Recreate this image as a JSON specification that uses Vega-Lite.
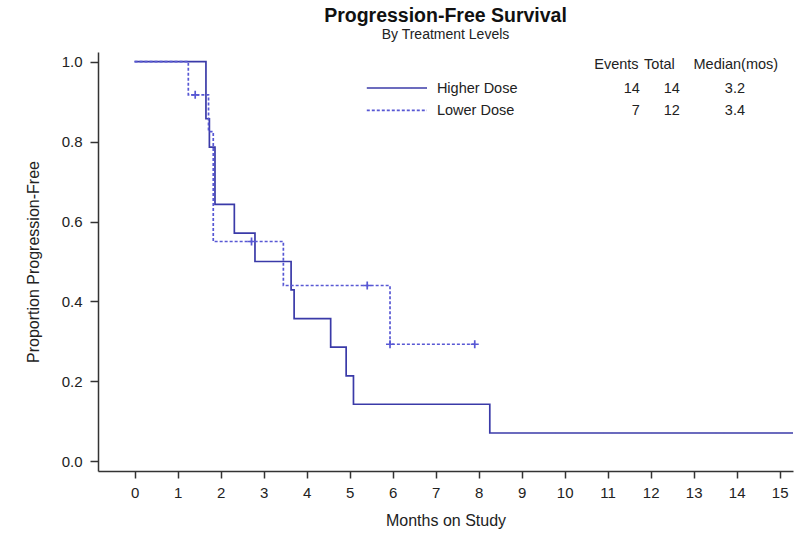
{
  "$schema": "https://vega.github.io/schema/vega-lite/v6.json",
  "width": 695,
  "height": 419,
  "autosize": {"type": "none"},
  "padding": {"left": 98, "top": 52, "right": 7, "bottom": 66},
  "background": "white",
  "config": {
    "font": "Liberation Sans",
    "view": {"stroke": null},
    "axis": {"grid": false, "domainColor": "#333333", "tickColor": "#333333", "domainWidth": 1.5, "tickWidth": 1.5, "labelColor": "#222222", "titleColor": "#222222", "labelFont": "Liberation Sans", "titleFont": "Liberation Sans", "labelFontSize": 15, "titleFontSize": 16, "titleFontWeight": "normal"}
  },
  "title": {
    "text": "Progression-Free Survival",
    "subtitle": "By Treatment Levels",
    "anchor": "middle",
    "frame": "group",
    "fontSize": 19.5,
    "fontWeight": "bold",
    "font": "Liberation Sans",
    "color": "#111111",
    "subtitleFontSize": 14,
    "subtitleFont": "Liberation Sans",
    "subtitleColor": "#222222",
    "subtitlePadding": 2,
    "offset": 9
  },
  "datasets": {
    "curves": [
      {"group": "Higher Dose", "month": 0, "surv": 1.0},
      {"group": "Higher Dose", "month": 1.66, "surv": 0.857},
      {"group": "Higher Dose", "month": 1.74, "surv": 0.786},
      {"group": "Higher Dose", "month": 1.87, "surv": 0.643},
      {"group": "Higher Dose", "month": 2.32, "surv": 0.571},
      {"group": "Higher Dose", "month": 2.8, "surv": 0.5},
      {"group": "Higher Dose", "month": 3.64, "surv": 0.429},
      {"group": "Higher Dose", "month": 3.71, "surv": 0.357},
      {"group": "Higher Dose", "month": 4.56, "surv": 0.286},
      {"group": "Higher Dose", "month": 4.92, "surv": 0.214},
      {"group": "Higher Dose", "month": 5.09, "surv": 0.143},
      {"group": "Higher Dose", "month": 8.26, "surv": 0.071},
      {"group": "Higher Dose", "month": 15.31, "surv": 0.071},
      {"group": "Lower Dose", "month": 0, "surv": 1.0},
      {"group": "Lower Dose", "month": 1.25, "surv": 0.917},
      {"group": "Lower Dose", "month": 1.72, "surv": 0.825},
      {"group": "Lower Dose", "month": 1.83, "surv": 0.55},
      {"group": "Lower Dose", "month": 3.46, "surv": 0.44},
      {"group": "Lower Dose", "month": 5.94, "surv": 0.293},
      {"group": "Lower Dose", "month": 7.91, "surv": 0.293}
    ],
    "censors": [
      {"group": "Lower Dose", "month": 1.41, "surv": 0.917},
      {"group": "Lower Dose", "month": 2.72, "surv": 0.55},
      {"group": "Lower Dose", "month": 5.41, "surv": 0.44},
      {"group": "Lower Dose", "month": 5.94, "surv": 0.293},
      {"group": "Lower Dose", "month": 7.91, "surv": 0.293}
    ],
    "legendlines": [
      {"group": "Higher Dose", "x1": 5.4, "x2": 6.8, "y": 0.934},
      {"group": "Lower Dose", "x1": 5.4, "x2": 6.8, "y": 0.878}
    ],
    "legendlabels": [
      {"label": "Higher Dose", "x": 7.03, "y": 0.932},
      {"label": "Lower Dose", "x": 7.03, "y": 0.877}
    ],
    "rightcols": [
      {"label": "Events", "x": 11.72, "y": 0.992},
      {"label": "Total", "x": 12.56, "y": 0.992},
      {"label": "14", "x": 11.75, "y": 0.932},
      {"label": "14", "x": 12.68, "y": 0.932},
      {"label": "7", "x": 11.75, "y": 0.877},
      {"label": "12", "x": 12.68, "y": 0.877}
    ],
    "centercols": [
      {"label": "Median(mos)", "x": 13.98, "y": 0.992},
      {"label": "3.2", "x": 13.96, "y": 0.932},
      {"label": "3.4", "x": 13.96, "y": 0.877}
    ]
  },
  "layer": [
    {
      "data": {"name": "curves"},
      "mark": {"type": "line", "interpolate": "step-after", "strokeWidth": 1.7},
      "encoding": {
        "x": {"field": "month", "type": "quantitative",
              "scale": {"domain": [-0.85, 15.31], "nice": false, "zero": false},
              "axis": {"values": [0,1,2,3,4,5,6,7,8,9,10,11,12,13,14,15], "title": "Months on Study", "tickSize": 7, "labelPadding": 7, "titlePadding": 12, "labelFlush": false}},
        "y": {"field": "surv", "type": "quantitative",
              "scale": {"domain": [-0.024, 1.024], "nice": false, "zero": false},
              "axis": {"values": [0, 0.2, 0.4, 0.6, 0.8, 1.0], "format": ".1f", "title": "Proportion Progression-Free", "tickSize": 8, "labelPadding": 8, "titlePadding": 20, "labelFlush": false}},
        "color": {"field": "group", "type": "nominal", "scale": {"domain": ["Higher Dose", "Lower Dose"], "range": ["#3a3aa8", "#5858d4"]}, "legend": null},
        "strokeDash": {"field": "group", "type": "nominal", "scale": {"domain": ["Higher Dose", "Lower Dose"], "range": [[1, 0], [3, 2]]}, "legend": null}
      }
    },
    {
      "data": {"name": "censors"},
      "mark": {"type": "point", "shape": "M-1,0L1,0M0,-1L0,1", "size": 64, "filled": false, "strokeWidth": 1.7, "opacity": 1},
      "encoding": {
        "x": {"field": "month", "type": "quantitative"},
        "y": {"field": "surv", "type": "quantitative"},
        "color": {"field": "group", "type": "nominal", "legend": null}
      }
    },
    {
      "data": {"name": "legendlines"},
      "mark": {"type": "rule", "strokeWidth": 1.6},
      "encoding": {
        "x": {"field": "x1", "type": "quantitative"},
        "x2": {"field": "x2"},
        "y": {"field": "y", "type": "quantitative"},
        "color": {"field": "group", "type": "nominal", "legend": null},
        "strokeDash": {"field": "group", "type": "nominal", "legend": null}
      }
    },
    {
      "data": {"name": "legendlabels"},
      "mark": {"type": "text", "align": "left", "baseline": "middle", "fontSize": 14.5, "font": "Liberation Sans", "color": "#222222"},
      "encoding": {
        "x": {"field": "x", "type": "quantitative"},
        "y": {"field": "y", "type": "quantitative"},
        "text": {"field": "label"}
      }
    },
    {
      "data": {"name": "rightcols"},
      "mark": {"type": "text", "align": "right", "baseline": "middle", "fontSize": 14.5, "font": "Liberation Sans", "color": "#222222"},
      "encoding": {
        "x": {"field": "x", "type": "quantitative"},
        "y": {"field": "y", "type": "quantitative"},
        "text": {"field": "label"}
      }
    },
    {
      "data": {"name": "centercols"},
      "mark": {"type": "text", "align": "center", "baseline": "middle", "fontSize": 14.5, "font": "Liberation Sans", "color": "#222222"},
      "encoding": {
        "x": {"field": "x", "type": "quantitative"},
        "y": {"field": "y", "type": "quantitative"},
        "text": {"field": "label"}
      }
    }
  ]
}
